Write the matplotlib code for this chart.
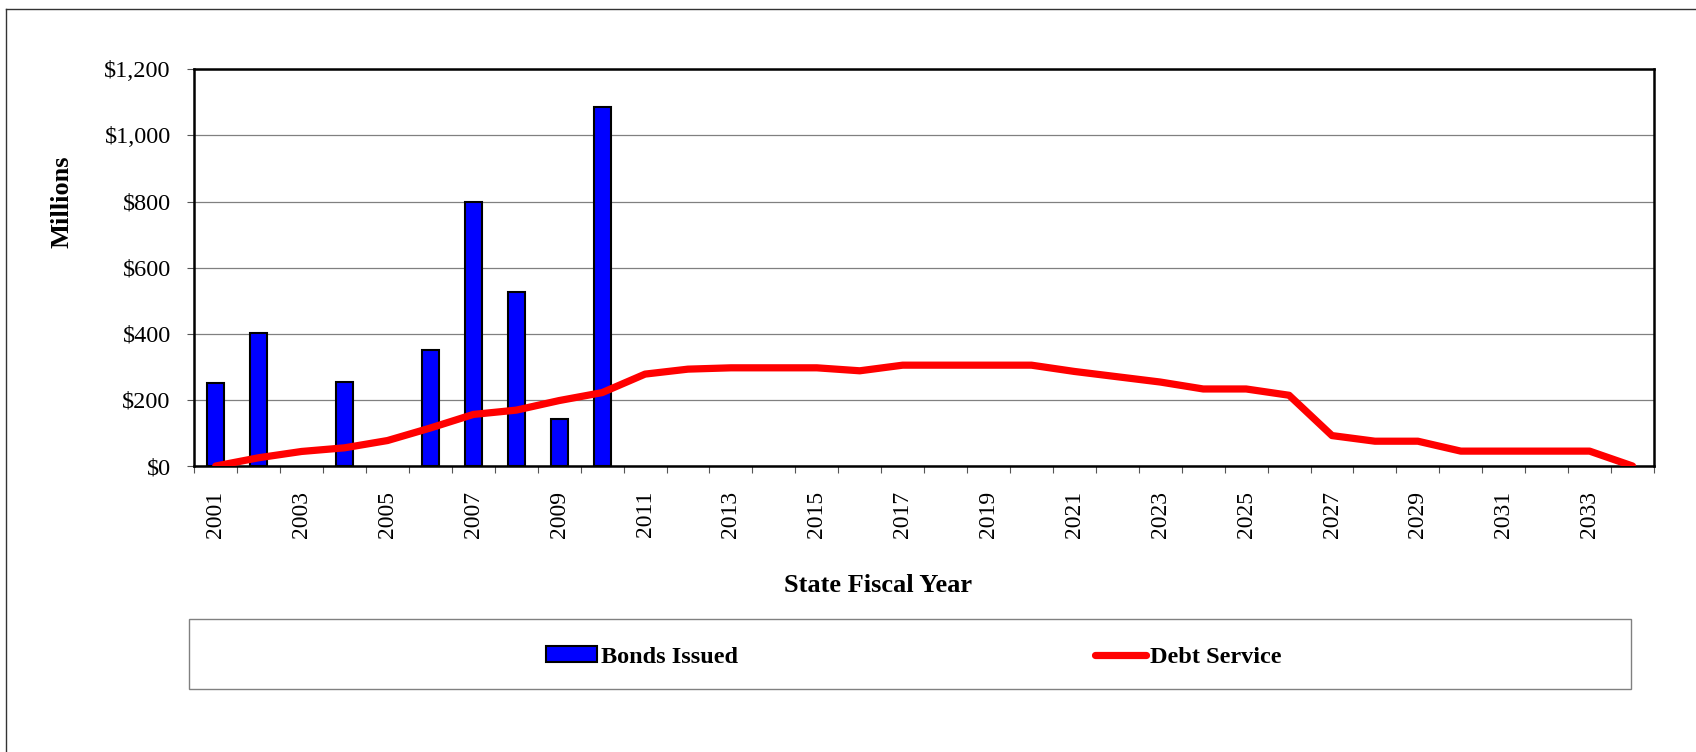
import numpy as np
import matplotlib
matplotlib.use("Agg")
import matplotlib.pyplot as plt
from matplotlib.patches import Rectangle
from matplotlib.lines import Line2D
from matplotlib.ticker import FuncFormatter

plt.rcParams['font.family'] = ['Liberation Serif', 'DejaVu Serif']

years = list(range(2001, 2035))
# bonds issued, $ millions (0 = none that year)
bonds_issued = [250, 402, 0, 253, 0, 351, 800, 527, 142, 1085] + [0] * 24
# annual debt service, $ millions
debt_service = [0, 25, 44, 55, 77, 115, 156, 169, 198, 222,
                278, 293, 297, 297, 297, 288, 305, 305, 305, 305,
                286, 270, 254, 233, 233, 214, 92, 75, 75, 45,
                45, 45, 45, 0]
tick_years = [y for y in years if y % 2 == 1]

W, H = 1696, 752
fig = plt.figure(figsize=(W / 100, H / 100), dpi=100)
ax = fig.add_axes([194.3 / W, 1 - 466 / H, (1654 - 194.3) / W, (466 - 69.3) / H])

x = np.arange(len(years))
bx = [i for i, v in zip(x, bonds_issued) if v > 0]
bv = [v for v in bonds_issued if v > 0]
bars = ax.bar(bx, bv, width=0.4, color='#0000FF', edgecolor='black', linewidth=1.5,
              zorder=2, label='Bonds Issued')
line, = ax.plot(x, debt_service, color='#FF0000', linewidth=5.2, solid_capstyle='round',
                solid_joinstyle='round', zorder=3, label='Debt Service')

ax.set_xlim(-0.5, len(years) - 0.5)
ax.set_ylim(0, 1200)
ax.set_yticks(range(0, 1201, 200))
ax.yaxis.set_major_formatter(FuncFormatter(lambda v, p: '${:,.0f}'.format(v)))
ax.grid(axis='y', color='#808080', linewidth=0.9, zorder=0)
ax.set_axisbelow(True)

# labels on odd years, tick marks between categories
ax.set_xticks([years.index(y) for y in tick_years])
ax.set_xticklabels([str(y) for y in tick_years], rotation=90)
ax.set_xticks(np.arange(-0.5, len(years), 1.0), minor=True)
ax.tick_params(axis='x', which='major', length=0, pad=18, labelsize=17)
ax.tick_params(axis='x', which='minor', length=5, width=0.8, color='#555555')
ax.tick_params(axis='y', length=5, width=0.8, color='#555555', pad=12, labelsize=17.5)

for s in ax.spines.values():
    s.set_linewidth(1.8)
    s.set_color('black')

fig.text(62 / W, 1 - 202 / H, 'Millions', rotation=90, ha='center', va='center',
         fontsize=19, fontweight='bold')
fig.text(878 / W, 1 - 585 / H, 'State Fiscal Year', ha='center', va='center',
         fontsize=19, fontweight='bold')

# legend box
fig.patches.append(Rectangle((189 / W, 1 - 689 / H), (1631 - 189) / W, 70 / H,
                             transform=fig.transFigure, facecolor='white',
                             edgecolor='#808080', linewidth=1.0))
fig.legend([bars, line], ['Bonds Issued', 'Debt Service'], loc='center',
           bbox_to_anchor=(914 / W, 1 - 657 / H),
           ncol=2, frameon=False, columnspacing=14.7, handlelength=2.1,
           handleheight=0.6, handletextpad=0.15, prop={'weight': 'bold', 'size': 17.5})

# outer chart border
fig.lines.append(Line2D([6 / W, 6 / W], [0, 1 - 9 / H], transform=fig.transFigure,
                        color='#333333', linewidth=1.0))
fig.lines.append(Line2D([6 / W, 1], [1 - 9 / H, 1 - 9 / H], transform=fig.transFigure,
                        color='#333333', linewidth=1.0))

fig.savefig('out.png', dpi=100)
